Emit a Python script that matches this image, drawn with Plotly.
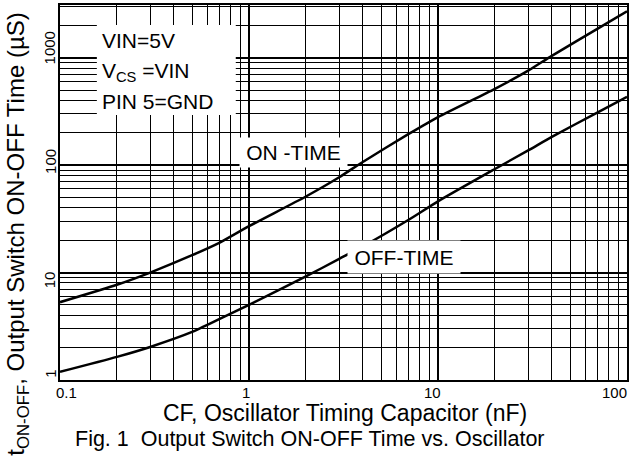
import math
import plotly.graph_objects as go

# Data
cap_nf = [0.1, 0.2, 0.3, 0.5, 0.7, 1, 2, 3, 4, 7, 10, 20, 30, 40, 70, 100]
on_time_us = [5.3, 7.7, 10, 14.5, 19, 27, 51, 77, 107, 195, 280, 513, 756, 1040, 1860, 2700]
off_time_us = [1.19, 1.64, 2.03, 2.8, 3.7, 5.0, 9.2, 13.4, 17.5, 31, 46, 92, 137, 183, 310, 432]

x_ticks = [0.1, 1, 10, 100]
x_tick_labels = ["0.1", "1", "10", "100"]
y_ticks = [1, 10, 100, 1000]
y_tick_labels = ["1", "10", "100", "1000"]

FONT = "Liberation Sans, Arial, sans-serif"

fig = go.Figure()
fig.add_trace(go.Scatter(x=cap_nf, y=on_time_us, mode="lines",
                         line=dict(color="black", width=2.5, shape="spline", smoothing=0.6),
                         showlegend=False, hoverinfo="skip"))
fig.add_trace(go.Scatter(x=cap_nf, y=off_time_us, mode="lines",
                         line=dict(color="black", width=2.5, shape="spline", smoothing=0.6),
                         showlegend=False, hoverinfo="skip"))

axis_common = dict(
    type="log", showline=True, mirror=True, linecolor="black", linewidth=2,
    showgrid=True, gridcolor="black", gridwidth=2.2, zeroline=False, automargin=False,
    ticks="", minor=dict(dtick="D1", showgrid=True, gridcolor="black", gridwidth=1.3, ticks=""),
)

fig.update_xaxes(**axis_common, range=[-1, 2], dtick=1, showticklabels=False)
fig.update_yaxes(**axis_common, range=[0, 3.49], dtick=1, showticklabels=False)

# x tick labels
anchors = ["left", "center", "center", "right"]
shifts = [-6, -3, -6, 2]
for v, t, a, s in zip(x_ticks, x_tick_labels, anchors, shifts):
    fig.add_annotation(x=math.log10(v), y=0, xref="x", yref="y", yshift=-12, xshift=s,
                       text=t, showarrow=False, xanchor=a, yanchor="middle",
                       font=dict(family=FONT, size=15, color="black"))

# y tick labels (rotated)
y_shifts = [6, -7, 4, 10]
for v, t, s in zip(y_ticks, y_tick_labels, y_shifts):
    fig.add_annotation(x=-0.018, y=math.log10(v), xref="paper", yref="y", yshift=s,
                       text=t, showarrow=False, textangle=-90, xanchor="center", yanchor="middle",
                       font=dict(family=FONT, size=15, color="black"))

# condition box
fig.add_shape(type="rect", xref="paper", yref="paper", x0=0.065, x1=0.31, y0=0.707, y1=0.947,
              fillcolor="white", line=dict(width=0), layer="above")
for txt, yy in [("VIN=5V", 0.904), ("V<sub>CS</sub> =VIN", 0.821), ("PIN 5=GND", 0.744)]:
    fig.add_annotation(x=0.0705, y=yy, xref="paper", yref="paper", text=txt, showarrow=False,
                       xanchor="left", yanchor="middle",
                       font=dict(family=FONT, size=21, color="black"))

fig.add_annotation(x=0.412, y=0.607, xref="paper", yref="paper", text="ON -TIME", showarrow=False,
                   bgcolor="white", width=107, height=29, borderpad=0,
                   font=dict(family=FONT, size=21, color="black"))
fig.add_annotation(x=0.607, y=0.283, xref="paper", yref="paper", text="OFF-TIME", showarrow=False,
                   bgcolor="white", width=112, height=32, borderpad=0,
                   font=dict(family=FONT, size=21, color="black"))

fig.add_annotation(x=0.503, y=-0.088, xref="paper", yref="paper",
                   text="CF, Oscillator Timing Capacitor (nF)", showarrow=False,
                   xanchor="center", yanchor="middle",
                   font=dict(family=FONT, size=23, color="black"))
fig.add_annotation(x=0.441, y=-0.157, xref="paper", yref="paper",
                   text="Fig. 1  Output Switch ON-OFF Time vs. Oscillator", showarrow=False,
                   xanchor="center", yanchor="middle",
                   font=dict(family=FONT, size=21.5, color="black"))
fig.add_annotation(x=-0.074, y=0.39, xref="paper", yref="paper", textangle=-90,
                   text="t<sub>ON-OFF</sub>, Output Switch ON-OFF Time (µS)", showarrow=False,
                   xanchor="center", yanchor="middle",
                   font=dict(family=FONT, size=24, color="black"))

fig.update_layout(width=629, height=468, margin=dict(l=60, r=2, t=5, b=88),
                  plot_bgcolor="white", paper_bgcolor="white", hovermode=False)

fig.write_html("out.html", config={"displayModeBar": False},
               post_script="document.body.style.margin='0';document.body.style.overflow='hidden';")
